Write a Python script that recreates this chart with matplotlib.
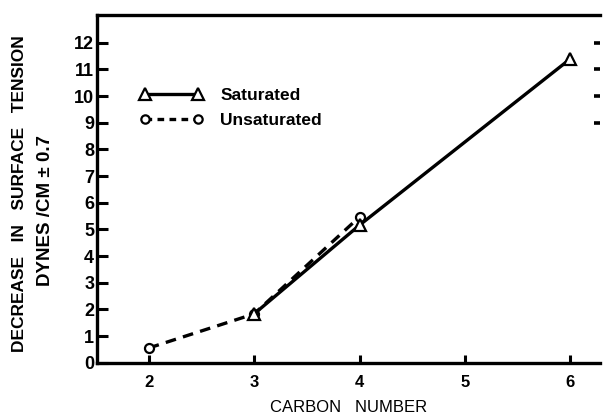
import matplotlib.pyplot as plt
from matplotlib.lines import Line2D

plt.rcParams['font.family'] = ['Liberation Sans', 'DejaVu Sans']
plt.rcParams['font.weight'] = 'bold'

# data
satX = [3, 4, 6]
satY = [1.83, 5.16, 11.4]
unsatX = [2, 3, 4]
unsatY = [0.55, 1.83, 5.47]
xTicks = [2, 3, 4, 5, 6]
yTicks = list(range(0, 13))
rightTicks = [9, 10, 11, 12]

fig = plt.figure(figsize=(6.03, 4.16), dpi=100)
ax = fig.add_axes([97 / 603, 53.3 / 416, 503 / 603, 348 / 416])

ax.plot(unsatX, unsatY, color='black', lw=2.4, ls=(0, (3.2, 2.2)),
        marker='o', ms=6.5, mfc='white', mec='black', mew=1.6, zorder=3)
ax.plot(satX, satY, color='black', lw=2.4, ls='-',
        marker='^', ms=8.5, mfc='white', mec='black', mew=1.6, zorder=4)

ax.set_xlim(1.51, 6.28)
ax.set_ylim(0, 13.05)
ax.set_xticks(xTicks)
ax.set_yticks(yTicks)
ax.tick_params(axis='x', direction='in', length=6, width=2.2, labelsize=12, pad=9)
ax.tick_params(axis='y', direction='in', length=8, width=2.2, labelsize=13, pad=2)
for side in ['left', 'bottom', 'top']:
    ax.spines[side].set_linewidth(2.4)
ax.spines['right'].set_visible(False)

# leftover marks of a right-hand axis
sec = ax.secondary_yaxis('right')
sec.set_yticks(rightTicks)
sec.tick_params(direction='in', length=4, width=2.6, labelright=False)
sec.spines['right'].set_visible(False)

ax.set_xlabel('CARBON   NUMBER', fontsize=12, labelpad=7)
fig.text(0.033, 0.535, 'DECREASE   IN   SURFACE   TENSION', rotation=90,
         ha='center', va='center', fontsize=12.5)
fig.text(0.075, 0.495, 'DYNES /CM \u00b1 0.7', rotation=90,
         ha='center', va='center', fontsize=13.5)

handles = [
    Line2D([], [], color='black', lw=2.4, marker='^', ms=8.5, mfc='white', mec='black', mew=1.6),
    Line2D([], [], color='black', lw=2.4, ls=(0, (2, 1.6)), marker='o', ms=6, mfc='white', mec='black', mew=1.6),
]
ax.legend(handles, ['Saturated', 'Unsaturated'], loc='upper left',
          bbox_to_anchor=(0.055, 0.835), frameon=False, numpoints=2,
          handlelength=3.6, handletextpad=1.0, labelspacing=0.55, fontsize=12.5)

fig.savefig('out.png', dpi=100)
